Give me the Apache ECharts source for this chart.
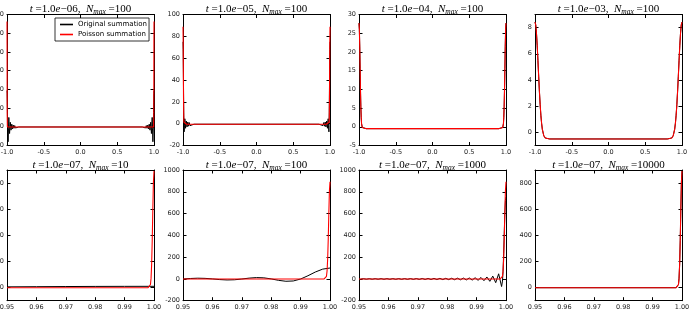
<!DOCTYPE html>
<html>
<head>
<meta charset="utf-8">
<script src="https://cdn.jsdelivr.net/npm/echarts@6/dist/echarts.min.js"></script>
<style>
html,body{margin:0;padding:0;background:#fff;}
#chart{width:690px;height:314px;}
</style>
</head>
<body>
<div id="chart"></div>
<script>
// ---------------- data ----------------
const seriesNames = ['Original summation', 'Poisson summation'];

const topXTicks = [-1, -0.5, 0, 0.5, 1];
const bottomXTicks = [0.95, 0.96, 0.97, 0.98, 0.99, 1.0];

const p1YTicks = [-50, 0, 50, 100, 150, 200, 250, 300];
const p2YTicks = [-20, 0, 20, 40, 60, 80, 100];
const p3YTicks = [-5, 0, 5, 10, 15, 20, 25, 30];
const p4YTicks = [0, 2, 4, 6, 8];
const p5YTicks = [0, 200, 400, 600, 800];
const p6YTicks = [-200, 0, 200, 400, 600, 800, 1000];
const p7YTicks = [-200, 0, 200, 400, 600, 800, 1000];
const p8YTicks = [0, 200, 400, 600, 800];

const p1YRange = [-50, 300];
const p2YRange = [-20, 100];
const p3YRange = [-5, 30];
const p4YRange = [-1, 9];
const p5YRange = [-100, 900];
const p6YRange = [-200, 1000];
const p7YRange = [-200, 1000];
const p8YRange = [-100, 900];

const panelT = ['1.0e−06', '1.0e−05', '1.0e−04', '1.0e−03', '1.0e−07', '1.0e−07', '1.0e−07', '1.0e−07'];
const panelN = ['100', '100', '100', '100', '10', '100', '1000', '10000'];

// t = 1e-6, N = 100
const p1Original = [[-1,97],[-0.998,88],[-0.996,66],[-0.994,38],[-0.992,13],[-0.99,-6],[-0.985,-40],[-0.98,-4],[-0.975,25],[-0.97,-1],[-0.965,-18],[-0.955,12],[-0.945,-9],[-0.935,7],[-0.925,-5.5],[-0.915,4.5],[-0.905,-4],[-0.895,3.2],[-0.885,-3.2],[-0.84,-0.5],
  [0.84,-0.5],[0.885,-3.2],[0.895,3.2],[0.905,-4],[0.915,4.5],[0.925,-5.5],[0.935,7],[0.945,-9],[0.955,12],[0.965,-18],[0.97,-1],[0.975,25],[0.98,-4],[0.985,-40],[0.99,-6],[0.992,13],[0.994,38],[0.996,66],[0.998,88],[1,97]];
const p1Poisson = [[-1,281.6],[-0.999,219.5],[-0.998,103.3],[-0.997,29.2],[-0.995,-0.5],[-0.95,-0.5],[0.95,-0.5],[0.995,-0.5],[0.997,29.2],[0.998,103.3],[0.999,219.5],[1,281.6]];

// t = 1e-5, N = 100
const p2Original = [[-1,75],[-0.9975,68],[-0.995,50],[-0.9925,28],[-0.99,10],[-0.9875,-2],[-0.985,-7.5],[-0.98,-2],[-0.975,4.5],[-0.965,-4.2],[-0.955,2.4],[-0.945,-3],[-0.935,1.5],[-0.925,-2.3],[-0.915,1.0],[-0.905,-1.8],[-0.85,-0.5],
  [0.85,-0.5],[0.905,-1.8],[0.915,1.0],[0.925,-2.3],[0.935,1.5],[0.945,-3],[0.955,2.4],[0.965,-4.2],[0.975,4.5],[0.98,-2],[0.985,-7.5],[0.9875,-2],[0.99,10],[0.9925,28],[0.995,50],[0.9975,68],[1,75]];
const p2Poisson = [[-1,88.7],[-0.9975,75.3],[-0.995,46.7],[-0.9925,21.3],[-0.99,6.8],[-0.9875,1.3],[-0.95,-0.5],[0.95,-0.5],[0.9875,1.3],[0.99,6.8],[0.9925,21.3],[0.995,46.7],[0.9975,75.3],[1,88.7]];

// t = 1e-4, N = 100 (both summations coincide)
const p3Sum = [[-1,27.7],[-0.995,26.0],[-0.99,21.5],[-0.985,15.6],[-0.98,9.9],[-0.975,5.4],[-0.97,2.5],[-0.965,0.8],[-0.955,-0.2],[-0.9,-0.5],
  [0.9,-0.5],[0.955,-0.2],[0.965,0.8],[0.97,2.5],[0.975,5.4],[0.98,9.9],[0.985,15.6],[0.99,21.5],[0.995,26.0],[1,27.7]];

// t = 1e-3, N = 100 (both summations coincide)
const p4Sum = [[-1,8.42],[-0.99,8.2],[-0.98,7.57],[-0.97,6.62],[-0.96,5.48],[-0.95,4.27],[-0.94,3.13],[-0.93,2.12],[-0.92,1.30],[-0.91,0.68],[-0.9,0.23],[-0.88,-0.26],[-0.86,-0.43],[-0.8,-0.5],
  [0.8,-0.5],[0.86,-0.43],[0.88,-0.26],[0.9,0.23],[0.91,0.68],[0.92,1.30],[0.93,2.12],[0.94,3.13],[0.95,4.27],[0.96,5.48],[0.97,6.62],[0.98,7.57],[0.99,8.2],[1,8.42]];

// t = 1e-7, Poisson summation (same in all bottom panels)
const t7Poisson = [[0.95,-0.5],[0.998,-0.5],[0.9985,3.2],[0.9988,23.9],[0.999,72.7],[0.9992,180],[0.9994,362],[0.9996,598],[0.9998,807],[1,892]];

// t = 1e-7, N = 10
const p5Original = [[0.95,5.9],[0.96,7.2],[0.97,8.4],[0.98,9.3],[0.99,9.8],[1,10]];

// t = 1e-7, N = 100
const p6Original = [[0.95,-1.0],[0.9525,3.9],[0.955,6.6],[0.9575,5.1],[0.96,0.0],[0.9625,-6.1],[0.965,-9.6],[0.9675,-7.8],[0.97,-1.0],[0.9725,7.3],[0.975,12.2],[0.9775,9.9],[0.98,0.0],[0.9825,-13.0],[0.985,-21.7],[0.9875,-18.9],[0.99,-1.0],[0.9925,29.2],[0.995,63.2],[0.9975,89.9],[1,100]];

// t = 1e-7, N = 1000
const p7Original = [[0.9505,-2.9],[0.9515,2.0],[0.9525,-3.0],[0.9535,2.1],[0.9545,-3.1],[0.9555,2.2],[0.9565,-3.2],[0.9575,2.3],[0.9585,-3.4],[0.9595,2.4],
  [0.9605,-3.5],[0.9615,2.6],[0.9625,-3.7],[0.9635,2.8],[0.9645,-3.8],[0.9655,2.9],[0.9665,-4.0],[0.9675,3.2],[0.9685,-4.3],[0.9695,3.4],
  [0.9705,-4.5],[0.9715,3.7],[0.9725,-4.8],[0.9735,4.0],[0.9745,-5.2],[0.9755,4.4],[0.9765,-5.6],[0.9775,4.8],[0.9785,-6.0],[0.9795,5.3],
  [0.9805,-6.6],[0.9815,5.9],[0.9825,-7.3],[0.9835,6.7],[0.9845,-8.2],[0.9855,7.7],[0.9865,-9.3],[0.9875,9.0],[0.9885,-10.8],[0.9895,10.8],
  [0.9905,-13.0],[0.9915,13.5],[0.9925,-16.3],[0.9935,17.8],[0.9945,-22.1],[0.9955,25.9],[0.9965,-34.4],[0.9975,47.0],[0.9985,-70],
  [0.9988,-20],[0.999,70],[0.9992,230],[0.9994,420],[0.9996,600],[0.9998,720],[1,752]];

// t = 1e-7, N = 10000 (both summations coincide)
const p8Original = t7Poisson;

// ---------------- layout / styling ----------------
const panels = [
  {orig: p1Original, pois: p1Poisson, xTicks: topXTicks, xDec: 1, yTicks: p1YTicks, yRange: p1YRange},
  {orig: p2Original, pois: p2Poisson, xTicks: topXTicks, xDec: 1, yTicks: p2YTicks, yRange: p2YRange},
  {orig: p3Sum, pois: p3Sum, xTicks: topXTicks, xDec: 1, yTicks: p3YTicks, yRange: p3YRange},
  {orig: p4Sum, pois: p4Sum, xTicks: topXTicks, xDec: 1, yTicks: p4YTicks, yRange: p4YRange},
  {orig: p5Original, pois: t7Poisson, xTicks: bottomXTicks, xDec: 2, yTicks: p5YTicks, yRange: p5YRange},
  {orig: p6Original, pois: t7Poisson, xTicks: bottomXTicks, xDec: 2, yTicks: p6YTicks, yRange: p6YRange},
  {orig: p7Original, pois: t7Poisson, xTicks: bottomXTicks, xDec: 2, yTicks: p7YTicks, yRange: p7YRange},
  {orig: p8Original, pois: t7Poisson, xTicks: bottomXTicks, xDec: 2, yTicks: p8YTicks, yRange: p8YRange}
];

const colLeft = [7, 183, 359, 535];
const plotW = 147;
const rowTop = [14.5, 170];
const plotH = [131, 130.7];
const titleTop = [1.5, 157.5];

const fmtNum = (v, d) => {
  if (d === undefined) return String(v);
  return (v < -1e-12 ? '-' : '') + Math.abs(v).toFixed(d);
};

const labelStyle = {fontFamily: 'DejaVu Sans', fontSize: 6.5, color: '#222'};
const lineBlack = {color: '#000', width: 1};

const grids = [], xAxes = [], yAxes = [], series = [], titles = [];

panels.forEach((p, i) => {
  const c = i % 4, r = Math.floor(i / 4);
  grids.push({left: colLeft[c], top: rowTop[r], width: plotW, height: plotH[r], outerBoundsMode: 'none', containLabel: false});
  const xMin = p.xTicks[0], xMax = p.xTicks[p.xTicks.length - 1];
  const common = {type: 'value', gridIndex: i, splitLine: {show: false}};
  const tick = vals => ({show: true, inside: true, length: 3.5, customValues: vals, lineStyle: lineBlack});
  xAxes.push(Object.assign({}, common, {
    position: 'bottom', min: xMin, max: xMax,
    axisLine: {show: true, onZero: false, lineStyle: lineBlack},
    axisTick: tick(p.xTicks),
    axisLabel: Object.assign({show: true, margin: 3, customValues: p.xTicks, formatter: v => fmtNum(v, p.xDec)}, labelStyle)
  }));
  xAxes.push(Object.assign({}, common, {
    position: 'top', min: xMin, max: xMax,
    axisLine: {show: true, onZero: false, lineStyle: lineBlack},
    axisTick: tick(p.xTicks),
    axisLabel: {show: false}
  }));
  yAxes.push(Object.assign({}, common, {
    position: 'left', min: p.yRange[0], max: p.yRange[1],
    axisLine: {show: true, onZero: false, lineStyle: lineBlack},
    axisTick: tick(p.yTicks),
    axisLabel: Object.assign({show: true, margin: 3, customValues: p.yTicks, formatter: v => fmtNum(v)}, labelStyle)
  }));
  yAxes.push(Object.assign({}, common, {
    position: 'right', min: p.yRange[0], max: p.yRange[1],
    axisLine: {show: true, onZero: false, lineStyle: lineBlack},
    axisTick: tick(p.yTicks),
    axisLabel: {show: false}
  }));
  series.push({
    name: seriesNames[0], type: 'line', xAxisIndex: 2 * i, yAxisIndex: 2 * i,
    data: p.orig, symbol: 'none', clip: true, lineStyle: {color: '#000', width: 1}, itemStyle: {color: '#000'}
  });
  series.push({
    name: seriesNames[1], type: 'line', xAxisIndex: 2 * i, yAxisIndex: 2 * i,
    data: p.pois, symbol: 'none', clip: true, lineStyle: {color: '#ff0000', width: 1.1}, itemStyle: {color: '#ff0000'}
  });
  titles.push({
    text: '{i|t} =' + panelT[i].replace('e', '{i|e}') + ',  {i|N}{s|max} =' + panelN[i],
    left: colLeft[c] + plotW / 2, top: titleTop[r], textAlign: 'center', padding: 0,
    textStyle: {
      fontFamily: 'Liberation Serif', fontSize: 11, fontWeight: 'normal', color: '#000',
      rich: {
        i: {fontFamily: 'Liberation Serif', fontStyle: 'italic', fontSize: 11, color: '#000'},
        s: {fontFamily: 'Liberation Serif', fontStyle: 'italic', fontSize: 7.5, color: '#000', padding: [7, 0, 0, 0]}
      }
    }
  });
});

const chart = echarts.init(document.getElementById('chart'), null, {renderer: 'canvas'});
chart.setOption({
  animation: false,
  backgroundColor: '#fff',
  title: titles,
  legend: {
    data: seriesNames, orient: 'vertical', left: 55, top: 18,
    icon: 'rect', itemWidth: 13, itemHeight: 1.6, itemGap: 3, itemTextGap: 5,
    padding: [3, 2, 3, 5],
    borderColor: '#000', borderWidth: 0.8, backgroundColor: '#fff',
    textStyle: {fontFamily: 'DejaVu Sans', fontSize: 7, color: '#000'},
    selectedMode: false
  },
  grid: grids,
  xAxis: xAxes,
  yAxis: yAxes,
  series: series
});
</script>
</body>
</html>
